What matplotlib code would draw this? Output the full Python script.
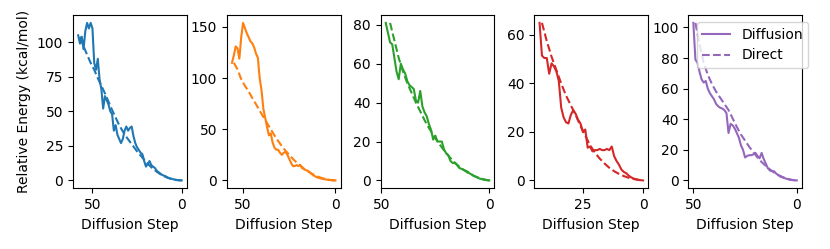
import matplotlib
matplotlib.use("Agg")
import matplotlib.pyplot as plt

# ---------------- data ----------------
# Panel 1 (blue)
steps1 = list(range(58, -1, -1))
diff1 = [105, 99, 104, 95, 108, 114, 110, 114, 110, 85, 80, 88, 73, 66, 52, 61, 58, 55, 50, 48,
         36, 40, 33, 30, 27, 30, 36, 39, 36, 38, 39, 32, 27, 24, 22, 20, 19, 14, 10, 12,
         14, 11, 10, 9, 7, 6, 5, 4, 3.5, 3, 2.2, 1.7, 1.3, 1.0, 0.6, 0.4, 0.2, 0.1, 0]
dsteps1 = [57, 55, 53, 51, 49, 47, 45, 43, 41, 39, 37, 35, 33, 31, 29, 27, 25, 23, 21, 19,
           17, 15, 13, 11, 9, 7, 5, 3, 1, 0]
direct1 = [104, 97, 91, 85, 80, 74, 68.5, 63, 57, 51, 45.5, 40, 35.5, 31.5, 28, 24.5, 21, 18, 15, 12,
           9.5, 7.3, 5.4, 3.8, 2.5, 1.5, 0.8, 0.3, 0.05, 0]

# Panel 2 (orange)
steps2 = list(range(56, -1, -1))
diff2 = [115, 122, 131, 129, 119, 140, 154, 149, 144, 140, 136, 134, 130, 124, 120, 100, 88, 70, 61, 52,
         44, 46, 37, 32, 30, 30, 27, 25, 27, 28, 25, 21, 17, 14, 14, 15, 14, 15, 12, 11,
         10, 9.5, 8, 6.5, 5, 4, 3, 2.5, 2, 1.6, 1.2, 0.9, 0.6, 0.4, 0.2, 0.1, 0]
dsteps2 = [55, 53, 51, 49, 47, 45, 43, 41, 39, 37, 35, 33, 31, 29, 27, 25, 23, 21, 19, 17,
           15, 13, 11, 9, 7, 5, 3, 1, 0]
direct2 = [115, 108.5, 99, 92.5, 87, 80.5, 74.5, 68, 62, 56, 50, 44, 38.5, 33.5, 29, 25, 21, 17.5, 14.5, 11.5,
           9, 6.8, 5, 3.4, 2.1, 1.1, 0.5, 0.1, 0]

# Panel 3 (green)
steps3 = list(range(48, -1, -1))
diff3 = [81, 76, 71, 70, 63, 56, 52, 60, 57, 55, 51, 49, 48, 47, 41, 40, 46, 38, 35, 33,
         29, 26, 21, 23, 20, 20, 20, 16, 14, 13, 10, 9, 9, 8, 6.5, 6, 5.5, 5, 4.5, 3.5,
         3, 2.2, 1.8, 1.2, 0.8, 0.5, 0.3, 0.1, 0]
dsteps3 = [46, 44, 42, 40, 38, 36, 34, 32, 30, 28, 26, 24, 22, 20, 18, 16, 14, 12, 10, 8,
           6, 4, 2, 0]
direct3 = [81, 72, 63, 56, 50, 45, 40, 35.5, 31, 27, 23.5, 20, 17, 14, 11.5, 9.2, 7.2, 5.5, 4, 2.8,
           1.8, 1.0, 0.4, 0]

# Panel 4 (red)
steps4 = list(range(43, -1, -1))
diff4 = [65, 51.5, 50.5, 50.5, 44, 48.3, 47, 45, 41, 30, 26, 24, 23.5, 27, 29, 27.5, 25, 23.5, 20, 21,
         13.5, 14, 12, 12.5, 12.5, 13, 12.5, 12.5, 13, 12.5, 14, 10, 8, 6.5, 4.5, 3.5, 3, 2,
         1.3, 0.8, 0.5, 0.3, 0.1, 0]
dsteps4 = [42, 40, 38, 36, 34, 32, 30, 28, 26, 24, 22, 20, 18, 16, 14, 12, 10, 8, 6, 4, 2, 0]
direct4 = [65, 57.5, 51, 45.5, 40, 35, 31, 27, 22.5, 18.5, 14.5, 11.5, 9, 7, 5.2, 3.8, 2.7, 1.8, 1.1, 0.6,
           0.2, 0]

# Panel 5 (purple)
steps5 = list(range(50, -1, -1))
diff5 = [103, 79, 77, 71, 66, 64, 65, 60, 57, 55, 53, 50, 48.5, 47.5, 47, 46, 44, 31, 37, 36,
         34, 31, 28, 23, 20, 15, 16, 16.5, 16.5, 17, 18, 16, 14.5, 18, 14, 11, 8, 6.5, 6, 6,
         4.5, 3.5, 2.5, 2, 1.5, 1.1, 0.7, 0.4, 0.2, 0.1, 0]
dsteps5 = [49, 47, 45, 43, 41, 39, 37, 35, 33, 31, 29, 27, 25, 23, 21, 19, 17, 15, 13, 11,
           9, 7, 5, 3, 1, 0]
direct5 = [103, 89, 77, 69, 63, 58, 54, 50, 46, 40.5, 35, 30, 26, 22, 18.5, 15, 12, 9.5, 7.2, 5.2,
           3.6, 2.3, 1.3, 0.5, 0.1, 0]

panels = [
    (steps1, diff1, dsteps1, direct1, "C0", [50, 0]),
    (steps2, diff2, dsteps2, direct2, "C1", [50, 0]),
    (steps3, diff3, dsteps3, direct3, "C2", [50, 0]),
    (steps4, diff4, dsteps4, direct4, "C3", [25, 0]),
    (steps5, diff5, dsteps5, direct5, "C4", [50, 0]),
]

plt.rcParams["font.family"] = ["DejaVu Sans"]
plt.rcParams["font.size"] = 10

fig, axes = plt.subplots(1, 5, figsize=(8.3, 2.49), dpi=100)
fig.subplots_adjust(left=73 / 830, right=802 / 830, top=1 - 15 / 249,
                    bottom=1 - 188.3 / 249, wspace=0.351)

for ax, (xs, ys, dxs, dys, color, xt) in zip(axes, panels):
    ax.plot(xs, ys, color=color, linestyle="-", linewidth=1.5, label="Diffusion")
    ax.plot(dxs, dys, color=color, linestyle="--", linewidth=1.5, label="Direct")
    ax.invert_xaxis()
    ax.set_xticks(xt)
    ax.set_xlabel("Diffusion Step")

axes[0].set_ylabel("Relative Energy (kcal/mol)")
axes[-1].legend(loc="upper right", bbox_to_anchor=(1.117, 1.0))

fig.savefig("out.png", dpi=100)
